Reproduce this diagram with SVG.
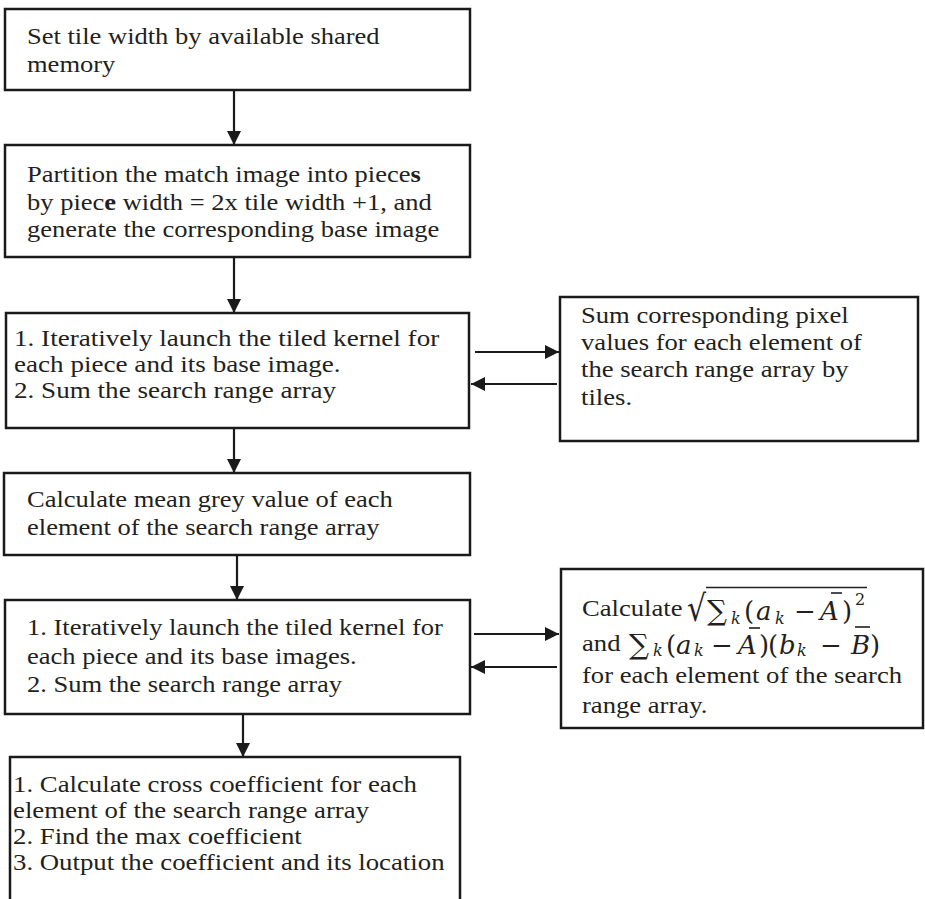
<svg xmlns="http://www.w3.org/2000/svg" width="925" height="899" viewBox="0 0 925 899">
<style>
.box{fill:#fff;stroke:#1a1a1a;stroke-width:2.5}
.t{font-family:"Liberation Serif","Times New Roman",serif;font-size:24px;fill:#231f20}
.mu{font-family:"DejaVu Serif","Liberation Serif",serif;font-size:26px;fill:#231f20}
.c{stroke:#1a1a1a;stroke-width:2.2;fill:none}
.bar{stroke:#231f20;stroke-width:1.6}
</style>
<defs>
<marker id="ah" markerUnits="userSpaceOnUse" markerWidth="15" markerHeight="15" refX="14" refY="7" orient="auto">
<path d="M0,0 L14,7 L0,14 z" fill="#1a1a1a"/>
</marker>
</defs>
<g id="connectors">
<line class="c" x1="234" y1="90" x2="234" y2="145" marker-end="url(#ah)"/>
<line class="c" x1="234" y1="257" x2="234" y2="313" marker-end="url(#ah)"/>
<line class="c" x1="234" y1="428" x2="234" y2="473" marker-end="url(#ah)"/>
<line class="c" x1="237" y1="555" x2="237" y2="600" marker-end="url(#ah)"/>
<line class="c" x1="243" y1="714" x2="243" y2="757" marker-end="url(#ah)"/>
<line class="c" x1="475" y1="352" x2="559" y2="352" marker-end="url(#ah)"/>
<line class="c" x1="557" y1="384" x2="471" y2="384" marker-end="url(#ah)"/>
<line class="c" x1="474" y1="634" x2="559" y2="634" marker-end="url(#ah)"/>
<line class="c" x1="557" y1="667" x2="471" y2="667" marker-end="url(#ah)"/>
</g>
<g id="n1">
<rect class="box" x="5" y="9" width="465" height="81"/>
<text class="t" transform="translate(27 0) scale(1.105 1)"><tspan x="0" y="44">Set tile width by available shared</tspan><tspan x="0" y="72">memory</tspan></text>
</g>
<g id="n2">
<rect class="box" x="5" y="145" width="465" height="112"/>
<text class="t" transform="translate(27 0) scale(1.105 1)"><tspan x="0" y="182">Partition the match image into piece<tspan font-weight="bold">s</tspan></tspan><tspan x="0" y="210">by piec<tspan font-weight="bold">e</tspan> width = 2x tile width +1, and</tspan><tspan x="0" y="237">generate the corresponding base image</tspan></text>
</g>
<g id="n3">
<rect class="box" x="6" y="313" width="463" height="115"/>
<text class="t" transform="translate(14 0) scale(1.13 1)"><tspan x="0" y="346">1. Iteratively launch the tiled kernel for</tspan><tspan x="0" y="372">each piece and its base image.</tspan><tspan x="0" y="398">2. Sum the search range array</tspan></text>
</g>
<g id="n4">
<rect class="box" x="4" y="473" width="466" height="82"/>
<text class="t" transform="translate(27 0) scale(1.105 1)"><tspan x="0" y="507">Calculate mean grey value of each</tspan><tspan x="0" y="535">element of the search range array</tspan></text>
</g>
<g id="n5">
<rect class="box" x="5" y="600" width="465" height="114"/>
<text class="t" transform="translate(27 0) scale(1.105 1)"><tspan x="0" y="635">1. Iteratively launch the tiled kernel for</tspan><tspan x="0" y="664">each piece and its base images.</tspan><tspan x="0" y="692">2. Sum the search range array</tspan></text>
</g>
<g id="n6">
<rect class="box" x="10" y="757" width="450" height="170"/>
<text class="t" transform="translate(13 0) scale(1.116 1)"><tspan x="0" y="792">1. Calculate cross coefficient for each</tspan><tspan x="0" y="818">element of the search range array</tspan><tspan x="0" y="844">2. Find the max coefficient</tspan><tspan x="0" y="870">3. Output the coefficient and its location</tspan></text>
</g>
<g id="r1">
<rect class="box" x="560" y="297" width="358" height="144"/>
<text class="t" transform="translate(581 0) scale(1.11 1)"><tspan x="0" y="323">Sum corresponding pixel</tspan><tspan x="0" y="350">values for each element of</tspan><tspan x="0" y="377">the search range array by</tspan><tspan x="0" y="405">tiles.</tspan></text>
</g>
<g id="r2">
<rect class="box" x="561" y="569" width="362" height="159"/>
<text class="t" transform="translate(582 0) scale(1.11 1)"><tspan x="0" y="616">Calculate</tspan><tspan x="0" y="651">and</tspan><tspan x="0" y="683">for each element of the search</tspan><tspan x="0" y="713">range array.</tspan></text>
<text class="mu" x="687" y="621" transform="translate(0 -130) scale(1 1.21)" style="font-size:30px">√</text>
<line class="bar" x1="706" y1="587.5" x2="867" y2="587.5"/>
<text class="mu"><tspan x="707" y="620" font-size="28">∑</tspan><tspan x="731" y="624" font-size="16" font-style="italic">k</tspan><tspan x="744" y="620">(</tspan><tspan x="756" y="620" font-style="italic">a</tspan><tspan x="775" y="624" font-size="16" font-style="italic">k</tspan><tspan x="794" y="620">−</tspan><tspan x="820" y="620" font-style="italic">A</tspan><tspan x="842" y="620">)</tspan><tspan x="855" y="605" font-size="16">2</tspan></text>
<line class="bar" x1="831" y1="593" x2="842" y2="593"/>
<text class="mu"><tspan x="629" y="654" font-size="28">∑</tspan><tspan x="653" y="656" font-size="16" font-style="italic">k</tspan><tspan x="666" y="654">(</tspan><tspan x="676" y="654" font-style="italic">a</tspan><tspan x="694" y="656" font-size="16" font-style="italic">k</tspan><tspan x="711" y="654">−</tspan><tspan x="738" y="654" font-style="italic">A</tspan><tspan x="759" y="654">)</tspan><tspan x="768" y="654">(</tspan><tspan x="779" y="654" font-style="italic">b</tspan><tspan x="797" y="656" font-size="16" font-style="italic">k</tspan><tspan x="820" y="654">−</tspan><tspan x="851" y="654" font-style="italic">B</tspan><tspan x="870" y="654">)</tspan></text>
<line class="bar" x1="749" y1="628" x2="760" y2="628"/>
<line class="bar" x1="855" y1="627" x2="870" y2="627"/>
</g>
</svg>
